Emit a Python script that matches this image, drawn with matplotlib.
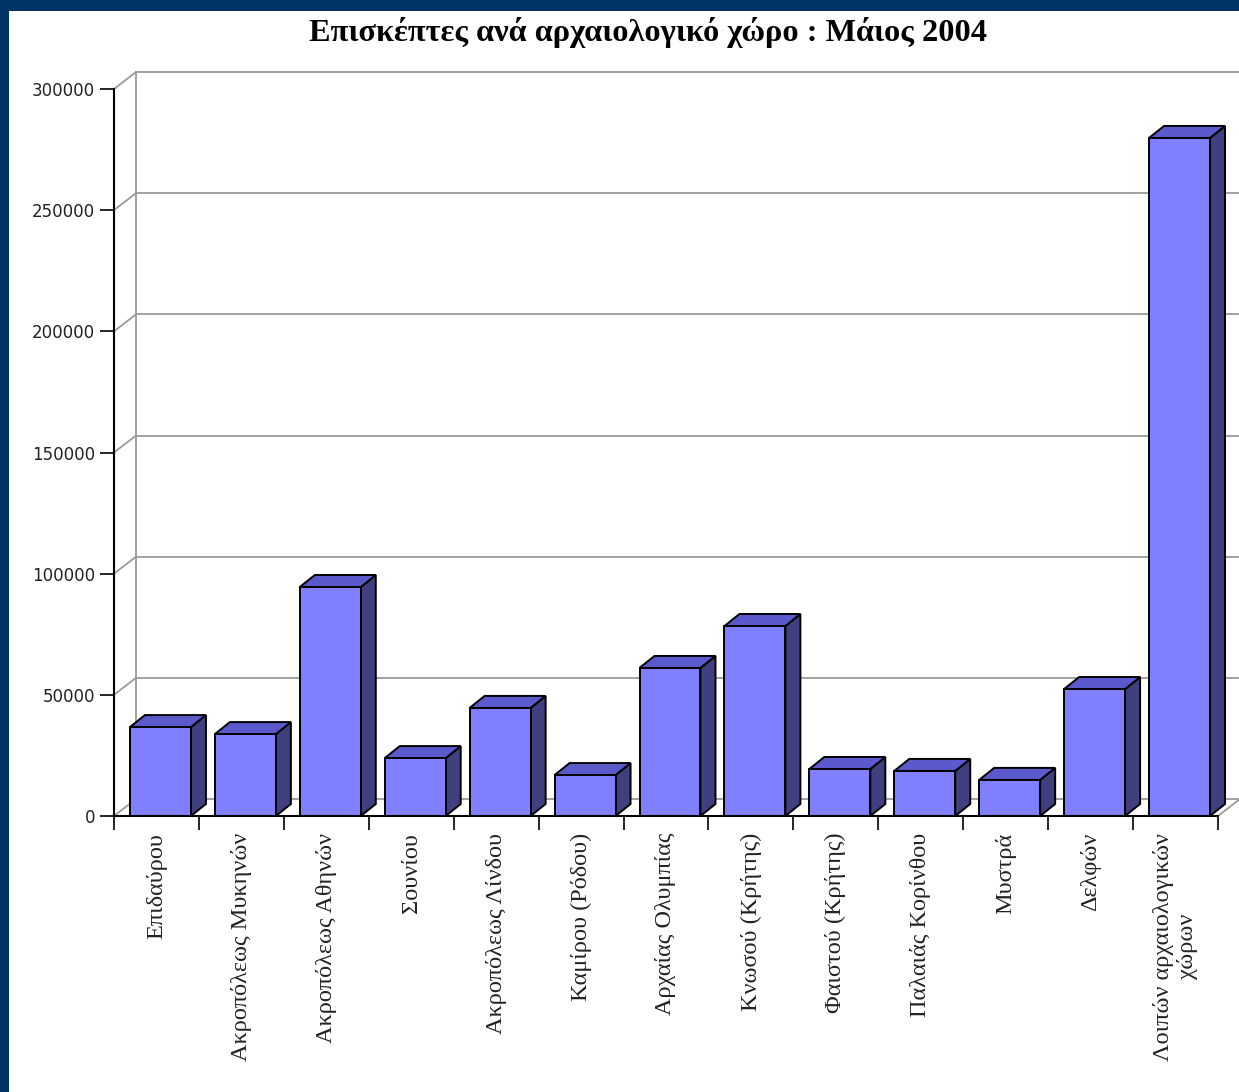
import numpy as np
import matplotlib
matplotlib.use("Agg")
import matplotlib.pyplot as plt
from matplotlib.patches import Rectangle, Polygon

# ---- data ----
sites = [
    "Επιδαύρου", "Ακροπόλεως Μυκηνών", "Ακροπόλεως Αθηνών", "Σουνίου",
    "Ακροπόλεως Λίνδου", "Καμίρου (Ρόδου)", "Αρχαίας Ολυμπίας", "Κνωσού (Κρήτης)",
    "Φαιστού (Κρήτης)", "Παλαιάς Κορίνθου", "Μυστρά", "Δελφών",
    "Λοιπών αρχαιολογικών\nχώρων",
]
visitors = [36700, 33800, 94500, 23900, 44600, 16900, 61100, 78400,
            19400, 18600, 14900, 52400, 279800]
y_ticks = [0, 50000, 100000, 150000, 200000, 250000, 300000]
title = "Επισκέπτες ανά αρχαιολογικό χώρο : Μάιος 2004"

# ---- layout (pixels) ----
W, H = 1239, 1092
AX_L, AX_R, AX_T, AX_B = 114, 1218, 89, 816
FRONT = "#8080ff"
SIDE = "#404080"
TOP = "#5a5acc"
GRID = "#9a9a9a"

fig = plt.figure(figsize=(W / 100, H / 100), dpi=100, facecolor="#003366")
fig.patches.append(Rectangle((9 / W, 0), 1, 1 - 11 / H, transform=fig.transFigure,
                             facecolor="white", edgecolor="none", zorder=-1))

ax = fig.add_axes([AX_L / W, 1 - AX_B / H, (AX_R - AX_L) / W, (AX_B - AX_T) / H])
ax.set_facecolor("none")
n = len(sites)
ymax = y_ticks[-1]
ax.set_xlim(-0.5, n - 0.5)
ax.set_ylim(0, ymax)

# pixel -> data conversions for the 3D offsets
px_x = (AX_R - AX_L) / n
px_y = (AX_B - AX_T) / ymax
wall_dx, wall_dy = 22 / px_x, 17 / px_y
bar_dx, bar_dy = 15 / px_x, 12 / px_y

# back wall + floor
x0 = -0.5
xw = x0 + wall_dx
x_end = n - 0.5 + wall_dx + 1
for v in y_ticks:
    ax.plot([xw, x_end], [v + wall_dy] * 2, color=GRID, lw=1.3, clip_on=False, zorder=1)
    ax.plot([x0, xw], [v, v + wall_dy], color=GRID, lw=1.3, clip_on=False, zorder=1)
ax.plot([xw, xw], [wall_dy, ymax + wall_dy], color=GRID, lw=1.3, clip_on=False, zorder=1)
ax.plot([n - 0.5, n - 0.5 + wall_dx], [0, wall_dy], color=GRID, lw=1.3, clip_on=False, zorder=1)

# bars
x = np.arange(n) + 0.047
width = 0.718
ax.bar(x, visitors, width, color=FRONT, edgecolor="black", lw=1.4, zorder=4)
for xi, v in zip(x, visitors):
    left, right = xi - width / 2, xi + width / 2
    ax.add_patch(Polygon([(right, 0), (right + bar_dx, bar_dy), (right + bar_dx, v + bar_dy), (right, v)],
                         closed=True, facecolor=SIDE, edgecolor="black", lw=1.4, zorder=3, clip_on=False))
    ax.add_patch(Polygon([(left, v), (left + bar_dx, v + bar_dy), (right + bar_dx, v + bar_dy), (right, v)],
                         closed=True, facecolor=TOP, edgecolor="black", lw=1.4, zorder=3, clip_on=False))

# axes
for s in ["top", "right"]:
    ax.spines[s].set_visible(False)
for s in ["left", "bottom"]:
    ax.spines[s].set_color("black")
    ax.spines[s].set_linewidth(1.5)
    ax.spines[s].set_zorder(5)

ax.set_yticks(y_ticks, labels=[str(v) for v in y_ticks])
ax.tick_params(axis="y", direction="out", length=10, width=1.2, pad=3.5,
               labelsize=12, labelcolor="#222222")
ax.set_xticks(np.arange(n + 1) - 0.5, labels=[""] * (n + 1))
ax.tick_params(axis="x", which="major", direction="out", length=10, width=1.2)
ax.set_xticks(np.arange(n), labels=sites, minor=True)
ax.tick_params(axis="x", which="minor", length=0, pad=12)
for lab in ax.get_xticklabels(minor=True):
    lab.set_rotation(90)
    lab.set_fontfamily("Liberation Serif")
    lab.set_fontsize(17.5)
    lab.set_color("#222222")

fig.text(648 / W, 1 - 33 / H, title, ha="center", va="center",
         fontfamily="Liberation Serif", fontweight="bold", fontsize=23.3)

fig.savefig("out.png", dpi=100, facecolor=fig.get_facecolor())
